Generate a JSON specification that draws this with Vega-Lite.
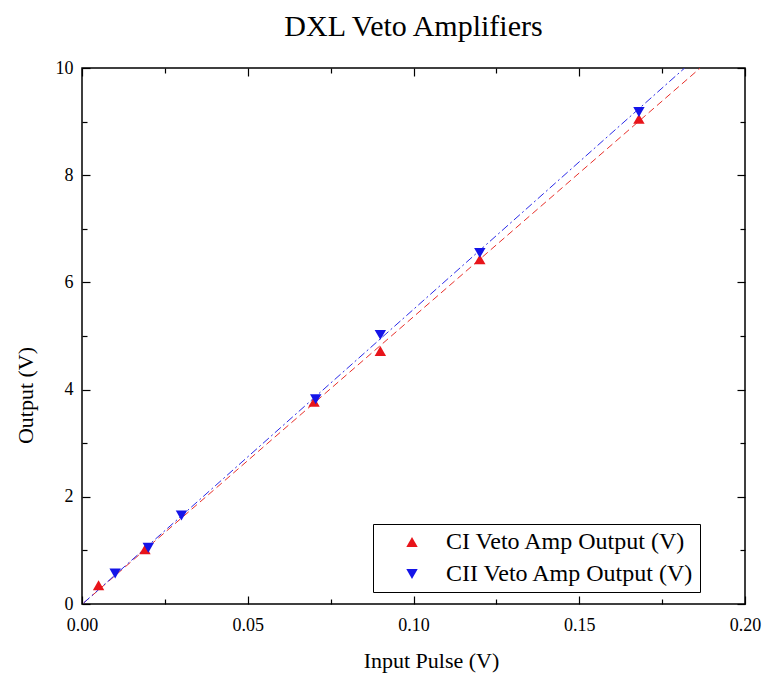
{
  "$schema": "https://vega.github.io/schema/vega-lite/v6.json",
  "width": 663,
  "height": 536,
  "autosize": "none",
  "padding": {"left": 82, "top": 68, "right": 20, "bottom": 75},
  "background": "white",
  "title": {"text": "DXL Veto Amplifiers", "font": "Liberation Serif", "fontSize": 30, "fontWeight": "normal", "color": "black", "offset": 17, "anchor": "middle"},
  "config": {
    "view": {"stroke": "black", "strokeWidth": 1.5},
    "font": "Liberation Serif"
  },
  "datasets": {
    "points": [
      {"x": 0.005, "y": 0.35, "series": "CI Veto Amp Output (V)"},
      {"x": 0.019, "y": 1.02, "series": "CI Veto Amp Output (V)"},
      {"x": 0.070, "y": 3.77, "series": "CI Veto Amp Output (V)"},
      {"x": 0.090, "y": 4.72, "series": "CI Veto Amp Output (V)"},
      {"x": 0.120, "y": 6.43, "series": "CI Veto Amp Output (V)"},
      {"x": 0.168, "y": 9.05, "series": "CI Veto Amp Output (V)"},
      {"x": 0.010, "y": 0.57, "series": "CII Veto Amp Output (V)"},
      {"x": 0.020, "y": 1.05, "series": "CII Veto Amp Output (V)"},
      {"x": 0.030, "y": 1.65, "series": "CII Veto Amp Output (V)"},
      {"x": 0.0705, "y": 3.82, "series": "CII Veto Amp Output (V)"},
      {"x": 0.090, "y": 5.02, "series": "CII Veto Amp Output (V)"},
      {"x": 0.120, "y": 6.55, "series": "CII Veto Amp Output (V)"},
      {"x": 0.168, "y": 9.18, "series": "CII Veto Amp Output (V)"}
    ],
    "fitCI": [
      {"x": 0.0005, "y": 0.02},
      {"x": 0.1865, "y": 10.0}
    ],
    "fitCII": [
      {"x": 0.0005, "y": 0.02},
      {"x": 0.1818, "y": 10.0}
    ]
  },
  "layer": [
    {
      "data": {"name": "fitCI"},
      "mark": {"type": "line", "stroke": "#e8302a", "strokeWidth": 1, "strokeDash": [7, 4], "clip": true},
      "encoding": {
        "x": {"field": "x", "type": "quantitative", "scale": {"domain": [0, 0.2], "nice": false, "zero": false},
          "axis": {"orient": "top", "values": [0, 0.025, 0.05, 0.075, 0.1, 0.125, 0.15, 0.175, 0.2], "labels": false, "title": null, "grid": false, "domain": false, "tickColor": "black", "tickWidth": 1.2,
            "tickSize": {"condition": {"test": "abs(datum.value*20 - round(datum.value*20)) < 0.001", "value": -8}, "value": -5}}},
        "y": {"field": "y", "type": "quantitative", "scale": {"domain": [0, 10], "nice": false, "zero": false},
          "axis": {"orient": "right", "values": [0, 1, 2, 3, 4, 5, 6, 7, 8, 9, 10], "labels": false, "title": null, "grid": false, "domain": false, "tickColor": "black", "tickWidth": 1.2,
            "tickSize": {"condition": {"test": "datum.value % 2 == 0", "value": -8}, "value": -5}}}
      }
    },
    {
      "data": {"name": "fitCII"},
      "mark": {"type": "line", "stroke": "#2a2ae8", "strokeWidth": 1, "strokeDash": [8, 3, 2, 3], "clip": true},
      "encoding": {
        "x": {"field": "x", "type": "quantitative", "axis": null},
        "y": {"field": "y", "type": "quantitative", "axis": null}
      }
    },
    {
      "data": {"name": "points"},
      "mark": {"type": "point", "filled": true, "opacity": 1, "size": 130},
      "encoding": {
        "x": {"field": "x", "type": "quantitative",
          "axis": {"orient": "bottom", "title": "Input Pulse (V)", "titleFont": "Liberation Serif", "titleFontSize": 22, "titleFontWeight": "normal", "titleColor": "black", "titlePadding": 16,
            "titleX": 349, "titleAlign": "center",
            "values": [0, 0.025, 0.05, 0.075, 0.1, 0.125, 0.15, 0.175, 0.2],
            "labelExpr": "abs(datum.value*20 - round(datum.value*20)) < 0.001 ? format(datum.value, '.2f') : ''",
            "labelFont": "Liberation Serif", "labelFontSize": 18, "labelColor": "black", "labelPadding": 20, "labelFlush": false,
            "grid": false, "domain": false, "tickColor": "black", "tickWidth": 1.2,
            "tickSize": {"condition": {"test": "abs(datum.value*20 - round(datum.value*20)) < 0.001", "value": -8}, "value": -5}}},
        "y": {"field": "y", "type": "quantitative",
          "axis": {"orient": "left", "title": "Output (V)", "titleFont": "Liberation Serif", "titleFontSize": 22, "titleFontWeight": "normal", "titleColor": "black", "titlePadding": 18,
            "titleY": 327, "titleAlign": "center",
            "values": [0, 1, 2, 3, 4, 5, 6, 7, 8, 9, 10],
            "labelExpr": "datum.value % 2 == 0 ? format(datum.value, 'd') : ''",
            "labelFont": "Liberation Serif", "labelFontSize": 18, "labelColor": "black", "labelPadding": 17, "labelFlush": false,
            "grid": false, "domain": false, "tickColor": "black", "tickWidth": 1.2,
            "tickSize": {"condition": {"test": "datum.value % 2 == 0", "value": -8}, "value": -5}}},
        "color": {"field": "series", "type": "nominal",
          "scale": {"domain": ["CI Veto Amp Output (V)", "CII Veto Amp Output (V)"], "range": ["#e8141a", "#1414e8"]},
          "legend": {"orient": "none", "legendX": 291, "legendY": 456, "title": null, "strokeColor": "black", "fillColor": "white",
            "padding": 6, "labelFont": "Liberation Serif", "labelFontSize": 24, "labelColor": "black", "labelOffset": 22, "labelLimit": 400,
            "symbolOffset": 21, "symbolSize": 130, "rowPadding": 8}},
        "shape": {"field": "series", "type": "nominal",
          "scale": {"domain": ["CI Veto Amp Output (V)", "CII Veto Amp Output (V)"], "range": ["triangle-up", "triangle-down"]}}
      }
    }
  ],
  "resolve": {"axis": {"x": "independent", "y": "independent"}}
}
